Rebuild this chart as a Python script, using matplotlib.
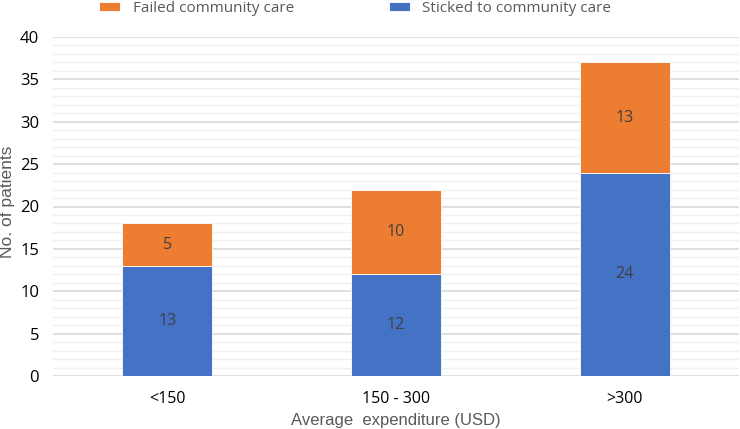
import matplotlib
matplotlib.use("Agg")
import matplotlib.pyplot as plt
from matplotlib.ticker import MultipleLocator
import numpy as np

categories = ["<150", "150 - 300", ">300"]
sticked = [13, 12, 24]
failed = [5, 10, 13]
series_names = ["Failed community care", "Sticked to community care"]
y_ticks = [0, 5, 10, 15, 20, 25, 30, 35, 40]

blue = "#4472C4"
orange = "#ED7D31"

fig = plt.figure(figsize=(7.4, 4.29), dpi=100)
ax = fig.add_axes([53/740, 53/429, 686/740, 339/429])

x = np.arange(len(categories))
w = 0.395
b1 = ax.bar(x, sticked, width=w, color=blue, edgecolor="white", linewidth=0.6, zorder=3)
b2 = ax.bar(x, failed, width=w, bottom=sticked, color=orange, edgecolor="white", linewidth=0.6, zorder=3)

for i in range(len(categories)):
    ax.text(x[i], sticked[i] / 2, str(sticked[i]), ha="center", va="center",
            fontsize=11.5, color="#404040", family="Open Sans", zorder=4)
    ax.text(x[i], sticked[i] + failed[i] / 2, str(failed[i]), ha="center", va="center",
            fontsize=11.5, color="#404040", family="Open Sans", zorder=4)

ax.set_xlim(-0.5, 2.5)
ax.set_ylim(0, 40)
ax.set_yticks(y_ticks)
ax.yaxis.set_minor_locator(MultipleLocator(1))
ax.grid(axis="y", which="major", color="#D9D9D9", linewidth=1.2, zorder=0)
ax.grid(axis="y", which="minor", color="#F0F0F0", linewidth=1.0, zorder=0)
ax.set_xticks(x)
ax.set_xticklabels(categories, fontsize=11.5, color="#000000", family="Open Sans")
for lab in ax.get_yticklabels():
    lab.set_fontsize(12)
    lab.set_family("Open Sans")
ax.tick_params(axis="both", which="both", length=0)
ax.tick_params(axis="x", pad=11)
ax.tick_params(axis="y", pad=10)
for s in ax.spines.values():
    s.set_visible(False)

ax.set_xlabel("Average  expenditure (USD)", fontsize=12, color="#595959", family="Liberation Sans", labelpad=4)
ax.set_ylabel("No. of patients", fontsize=12.5, color="#595959", family="Liberation Sans")
ax.yaxis.set_label_coords(-0.0555, 0.515)

leg = fig.legend([b2, b1], series_names, loc="upper center", bbox_to_anchor=(0.48, 1.03), ncol=2,
                 frameon=False, prop={"family": "Open Sans", "size": 11}, labelcolor="#595959",
                 handlelength=1.4, handleheight=0.6, columnspacing=6.2, handletextpad=0.8)

fig.savefig("out.png", dpi=100)
